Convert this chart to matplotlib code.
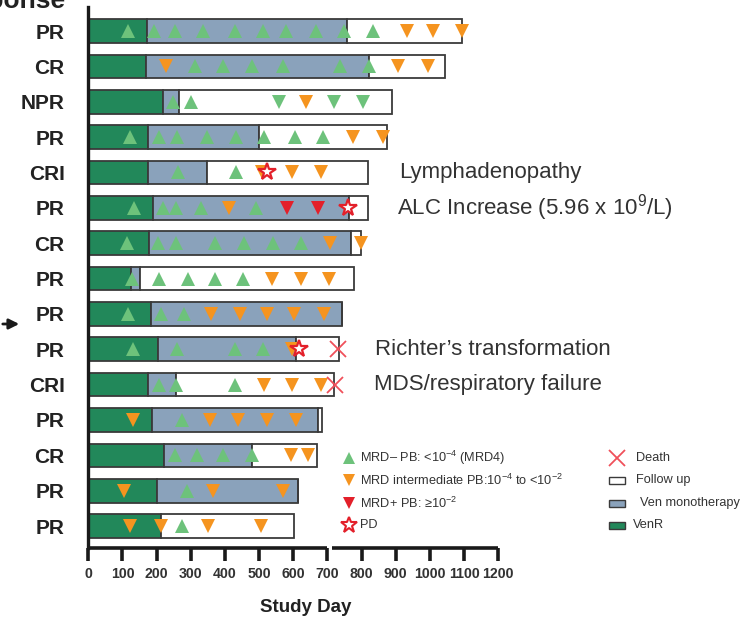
import matplotlib

matplotlib.use("Agg")
import matplotlib.pyplot as plt
from matplotlib.patches import Rectangle

plt.rcParams["font.family"] = ["Liberation Sans", "DejaVu Sans"]
plt.rcParams["mathtext.fontset"] = "custom"
plt.rcParams["mathtext.rm"] = "Liberation Sans"
plt.rcParams["mathtext.it"] = "Liberation Sans:italic"
plt.rcParams["mathtext.bf"] = "Liberation Sans:bold"

# ---- data (study days), one entry per patient, top to bottom
responses = ["PR", "CR", "NPR", "PR", "CRI", "PR", "CR", "PR",
             "PR", "PR", "CRI", "PR", "CR", "PR", "PR"]
venr_end = [171, 168, 218, 176, 176, 190, 178, 125, 183, 203, 176, 187, 222, 200, 212]
mono_end = [756, 821, 265, 500, 346, 764, 768, 151, 743, 608, 257, 673, 480, 615, 212]
follow_end = [1095, 1044, 888, 875, 818, 818, 797, 778, 743, 734, 720, 685, 670, 615, 603]

mrd_neg = [
    [117, 192, 253, 335, 429, 512, 580, 666, 749, 834],
    [312, 393, 480, 569, 737, 821],
    [249, 300],
    [122, 208, 260, 347, 431, 514, 605, 688],
    [262, 431],
    [135, 218, 257, 330, 490],
    [114, 203, 256, 371, 456, 540, 622],
    [129, 208, 293, 371, 454],
    [117, 212, 280],
    [132, 260, 429, 512],
    [207, 256, 429],
    [273],
    [254, 317, 393, 480],
    [290],
    [273],
]
mrd_neg_down = [[], [], [559, 720, 805], [], [], [], [], [], [], [], [], [], [], [], []]
mrd_int = [
    [932, 1008, 1095],
    [226, 907, 993],
    [637],
    [776, 862],
    [507, 597, 680],
    [413],
    [707, 798],
    [539, 622, 705],
    [358, 444, 522, 603, 690],
    [595],
    [514, 597, 681],
    [132, 356, 439, 524, 607],
    [592, 642],
    [104, 366, 571],
    [122, 212, 349, 505],
]
mrd_pos = [[], [], [], [], [], [582, 671], [], [], [], [], [], [], [], [], []]
pd_day = {4: 522, 5: 761, 9: 617}
death_day = {9: 732, 10: 722}
notes = {4: "Lymphadenopathy", 5: "ALC Increase (5.96 x 10$^{9}$/L)",
         9: "Richter\u2019s transformation", 10: "MDS/respiratory failure"}
note_x = {4: 909, 5: 903, 9: 839, 10: 836}

# ---- colours
C_VENR = "#22885a"
C_MONO = "#8aa2bb"
C_EDGE = "#3a3a3a"
C_GREEN = "#6dc27b"
C_ORANGE = "#f5941f"
C_RED = "#e3202a"
C_DEATH = "#f0505a"

W, H = 749, 617
fig = plt.figure(figsize=(W / 100, H / 100), dpi=100)
ax = fig.add_axes([88.3 / W, 1 - 548 / H, 410 / W, 541 / H])

rows = list(range(len(responses)))
bh = 0.67
seg_kw = dict(height=bh, edgecolor=C_EDGE, linewidth=1.3, zorder=2)
ax.barh(rows, venr_end, left=0, color=C_VENR, **seg_kw)
ax.barh(rows, [m - v for m, v in zip(mono_end, venr_end)], left=venr_end,
        color=C_MONO, **seg_kw)
ax.barh(rows, [f - m for f, m in zip(follow_end, mono_end)], left=mono_end,
        color="white", **seg_kw)

mk = dict(linestyle="none", markersize=9.5, markeredgewidth=0, zorder=4, clip_on=False)
for i in rows:
    ax.plot(mrd_neg[i], [i] * len(mrd_neg[i]), "^", color=C_GREEN, **mk)
    ax.plot(mrd_neg_down[i], [i] * len(mrd_neg_down[i]), "v", color=C_GREEN, **mk)
    ax.plot(mrd_int[i], [i] * len(mrd_int[i]), "v", color=C_ORANGE, **mk)
    ax.plot(mrd_pos[i], [i] * len(mrd_pos[i]), "v", color=C_RED, **mk)
for i, d in pd_day.items():
    ax.plot(d, i, "*", mfc="white", mec=C_RED, mew=1.6, ms=13, zorder=5, clip_on=False)
for i, d in death_day.items():
    ax.plot(d, i, "x", color=C_DEATH, mew=1.3, ms=11, zorder=5, clip_on=False)
for i, t in notes.items():
    ax.text(note_x[i], i, t, fontsize=16, color="#333333", va="center", ha="left")

ax.set_xlim(0, 1200)
ax.set_ylim(14.62, -0.68)
ax.set_yticks(rows)
ax.set_yticklabels(responses, fontsize=15, fontweight="bold", color="#222222")
ax.tick_params(axis="y", length=0, pad=17)
ax.set_xticks(range(0, 1201, 100))
ax.tick_params(axis="x", length=9.5, width=2.6, pad=4, labelsize=10.2,
               labelcolor="#333333", color="#1a1a1a")
for lab in ax.get_xticklabels():
    lab.set_fontweight("bold")
for s in ("top", "right", "bottom"):
    ax.spines[s].set_visible(False)
ax.spines["left"].set_linewidth(2.4)
ax.spines["left"].set_color("#1a1a1a")
ybot = ax.get_ylim()[0]
for x0, x1 in ((0, 700), (712, 1200)):
    ax.plot([x0, x1], [ybot, ybot], color="#1a1a1a", lw=2.6,
            solid_capstyle="butt", clip_on=False, zorder=6)
ax.set_xlabel("Study Day", fontsize=13.5, fontweight="bold", color="#222222")
ax.xaxis.set_label_coords(0.531, -0.095)

# ---- overlay in pixel coords for legend, clipped title and arrow
ov = fig.add_axes([0, 0, 1, 1], facecolor="none")
ov.set_xlim(0, W)
ov.set_ylim(H, 0)
ov.axis("off")

ov.text(65, 8, "Response", fontsize=19, fontweight="bold", ha="right",
        va="baseline", color="#222222")
ov.annotate("", xy=(22, 324), xytext=(0, 324),
            arrowprops=dict(arrowstyle="-|>", color="#1a1a1a", lw=2,
                            mutation_scale=15))

leg_y = [458, 480, 503, 525]
fs = 9.2
ov.plot(349, leg_y[0], "^", color=C_GREEN, ms=8, mew=0)
ov.plot(349, leg_y[1], "v", color=C_ORANGE, ms=8, mew=0)
ov.plot(349, leg_y[2], "v", color=C_RED, ms=8, mew=0)
ov.plot(349, leg_y[3], "*", mfc="white", mec=C_RED, mew=1.5, ms=12)
ov.text(360, leg_y[0], "MRD\u2013 PB: <10$^{-4}$ (MRD4)", fontsize=fs, va="center",
        color="#333333")
ov.text(360, leg_y[1], "MRD intermediate PB:10$^{-4}$ to <10$^{-2}$", fontsize=fs,
        va="center", color="#333333")
ov.text(360, leg_y[2], "MRD+ PB: \u226510$^{-2}$", fontsize=fs, va="center",
        color="#333333")
ov.text(360, leg_y[3], "PD", fontsize=fs, va="center", color="#333333")

ov.plot(617, leg_y[0], "x", color=C_DEATH, ms=11, mew=1.3)
for y, c in zip(leg_y[1:], ["white", C_MONO, C_VENR]):
    ov.add_patch(Rectangle((609, y - 3), 16, 7, facecolor=c, edgecolor=C_EDGE, lw=1))
ov.text(636, leg_y[0], "Death", fontsize=fs, va="center", color="#333333")
ov.text(636, leg_y[1], "Follow up", fontsize=fs, va="center", color="#333333")
ov.text(640, leg_y[2], "Ven monotherapy", fontsize=fs, va="center", color="#333333")
ov.text(633, leg_y[3], "VenR", fontsize=fs, va="center", color="#333333")

fig.savefig("out.png", dpi=100)
